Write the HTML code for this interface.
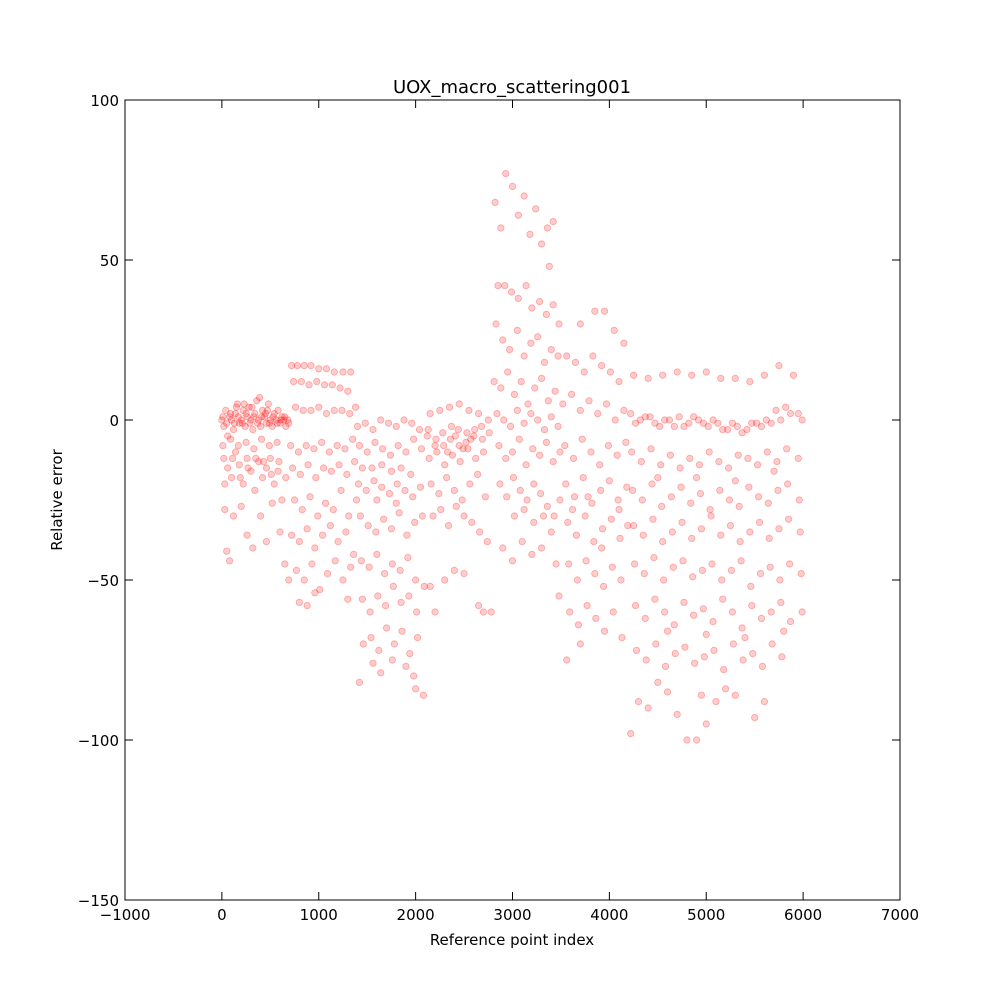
<!DOCTYPE html>
<html><head><meta charset="utf-8">
<style>
html,body{margin:0;padding:0;background:#fff;}
svg text{font-family:"DejaVu Sans","Liberation Sans",sans-serif;fill:#000;}
</style></head>
<body>
<svg id="chart" width="1000" height="1000" viewBox="0 0 1000 1000" xmlns="http://www.w3.org/2000/svg">
<rect x="0" y="0" width="1000" height="1000" fill="#fff"/>
<g id="points"></g>
<g id="axes"></g>
<text x="512" y="93" font-size="18" text-anchor="middle">UOX_macro_scattering001</text>
<text x="512" y="945" font-size="15" text-anchor="middle">Reference point index</text>
<text x="62" y="500" font-size="15" text-anchor="middle" transform="rotate(-90 62 500)">Relative error</text>
</svg>
<script>
const xTicks = [-1000,0,1000,2000,3000,4000,5000,6000,7000];
const yTicks = [-150,-100,-50,0,50,100];
const pointData = "0,0;20,-2;40,3;60,-5;80,1;100,0;120,-3;140,2;160,5;180,-1;200,0;220,3;240,-2;260,1;280,4;300,0;320,-3;340,2;360,6;380,0;400,-2;420,3;440,1;460,-1;480,5;500,0;520,-2;540,2;560,0;580,3;600,-1;620,1;640,0;660,-2;680,0;20,-12;60,-15;100,-18;140,-10;180,-14;220,-20;260,-12;300,-16;340,-22;380,-13;420,-18;460,-15;500,-12;540,-20;580,-16;620,-25;660,-18;30,-28;50,-41;80,-44;120,-30;200,-27;260,-36;320,-40;400,-30;460,-38;520,-26;600,-35;650,-45;690,-50;10,-8;90,-6;170,-8;250,-7;330,-9;410,-6;490,-8;570,-7;"
+"720,17;780,17;850,17;920,17;1000,16;1080,16;1160,15;1250,15;1330,15;740,12;820,12;900,11;980,12;1060,11;1140,11;1220,10;1300,9;760,4;840,3;920,3;1000,4;1080,2;1160,3;1240,3;1320,2;1380,4;710,-8;790,-10;870,-8;950,-9;1030,-7;1110,-10;1190,-8;1270,-9;1350,-6;730,-15;810,-17;890,-14;970,-18;1050,-15;1130,-16;1210,-14;1290,-17;1370,-13;750,-25;830,-28;910,-24;990,-30;1070,-26;1150,-28;1230,-22;1310,-30;1390,-25;720,-36;800,-38;880,-34;960,-40;1040,-36;1120,-33;1200,-38;1280,-35;1360,-42;770,-47;850,-50;930,-45;1010,-53;1090,-48;1170,-44;1250,-50;1330,-46;800,-57;880,-58;960,-54;1300,-56;"
+"1400,-2;1480,-1;1560,-3;1640,0;1720,-1;1800,-2;1880,0;1960,-1;2040,-3;1420,-8;1500,-10;1580,-7;1660,-9;1740,-11;1820,-8;1900,-10;1980,-6;2060,-9;1410,-20;1490,-22;1570,-19;1650,-21;1730,-23;1810,-20;1890,-22;1970,-24;2050,-21;1430,-30;1510,-33;1590,-35;1670,-31;1750,-34;1830,-29;1910,-36;1990,-32;2070,-30;1440,-44;1520,-46;1600,-42;1680,-48;1760,-45;1840,-47;1920,-43;2000,-50;1450,-56;1530,-60;1610,-55;1690,-58;1770,-52;1850,-57;1930,-55;2010,-60;2090,-52;1460,-70;1540,-68;1620,-72;1700,-65;1780,-70;1860,-66;1940,-73;2020,-68;1420,-82;1560,-76;1640,-79;1760,-75;1900,-77;2000,-84;2080,-86;1980,-80;"
+"2150,2;2250,3;2350,4;2450,5;2550,3;2650,2;2750,0;2120,-5;2200,-8;2280,-4;2360,-6;2440,-3;2520,-7;2600,-5;2680,-2;2760,-4;2140,-12;2220,-10;2300,-14;2380,-11;2460,-13;2540,-9;2620,-12;2700,-10;2160,-20;2240,-23;2320,-18;2400,-22;2480,-25;2560,-20;2640,-17;2720,-24;2180,-30;2260,-28;2340,-33;2420,-27;2500,-30;2580,-32;2660,-35;2740,-38;2150,-52;2300,-50;2400,-47;2500,-48;2650,-58;2700,-60;2780,-60;2200,-60;"
+"2820,68;2880,60;2930,77;3000,73;3060,64;3120,70;3180,58;3240,66;3300,55;3360,60;3420,62;3380,48;2850,42;2920,42;2990,40;3060,38;3140,42;3200,35;3280,37;3350,33;3420,36;3480,30;2830,30;2900,25;2970,22;3050,28;3120,20;3190,24;3260,26;3330,18;3400,22;3470,20;2810,12;2880,10;2950,15;3020,8;3090,12;3160,5;3230,10;3300,13;3370,6;3440,9;2840,2;2910,0;2980,-2;3050,3;3120,-1;3190,2;3260,0;3330,-3;3400,1;3470,-2;2860,-8;2930,-12;3000,-10;3070,-6;3140,-14;3210,-9;3280,-11;3350,-7;3420,-13;3490,-10;2870,-20;2940,-24;3010,-18;3080,-22;3150,-25;3220,-20;3290,-23;3360,-27;3430,-30;3490,-25;2900,-40;3000,-44;3100,-38;3200,-42;3300,-40;3400,-35;3450,-45;3480,-55;"
+"3560,20;3650,18;3740,15;3830,20;3920,17;4010,15;4100,12;3700,30;3850,34;3950,34;4050,28;4150,24;3520,5;3610,8;3700,3;3790,6;3880,2;3970,5;4060,0;4150,3;3540,-8;3630,-12;3720,-6;3810,-10;3900,-14;3990,-8;4080,-11;4170,-7;3550,-20;3640,-24;3730,-18;3820,-26;3910,-22;4000,-19;4090,-25;4180,-21;3570,-32;3660,-36;3750,-30;3840,-38;3930,-34;4020,-31;4110,-37;4190,-33;3580,-45;3670,-50;3760,-44;3850,-48;3940,-52;4030,-46;4120,-50;3590,-60;3680,-64;3770,-58;3860,-62;3950,-66;4040,-60;4130,-68;3560,-75;3700,-70;"
+"4250,14;4400,13;4550,14;4700,15;4850,14;5000,15;5150,13;5300,13;5450,12;5600,14;5750,17;5900,14;4220,2;4320,0;4420,1;4520,-2;4620,0;4720,1;4820,-1;4920,0;5020,-2;5120,-1;5220,-3;5320,-2;5420,-3;5520,-1;5620,0;5720,3;5820,4;5950,2;4230,-10;4330,-13;4430,-9;4530,-14;4630,-11;4730,-15;4830,-12;4930,-14;5030,-10;5130,-13;5230,-15;5330,-11;5430,-12;5530,-14;5630,-10;5730,-13;5830,-9;5950,-12;4240,-22;4340,-25;4440,-20;4540,-27;4640,-24;4740,-21;4840,-26;4940,-23;5040,-28;5140,-22;5240,-25;5340,-27;5440,-21;5540,-24;5640,-26;5740,-22;5840,-20;5960,-25;4250,-33;4350,-36;4450,-31;4550,-38;4650,-35;4750,-32;4850,-37;4950,-34;5050,-30;5150,-36;5250,-33;5350,-38;5450,-35;5550,-32;5650,-37;5750,-34;5850,-31;5970,-35;4260,-45;4360,-48;4460,-43;4560,-50;4660,-46;4760,-44;4860,-49;4960,-47;5060,-45;5160,-50;5260,-47;5360,-44;5460,-52;5560,-48;5660,-46;5760,-50;5860,-45;5980,-48;4270,-58;4370,-62;4470,-56;4570,-60;4670,-64;4770,-57;4870,-61;4970,-59;5070,-63;5170,-56;5270,-60;5370,-65;5470,-58;5570,-62;5670,-60;5770,-57;5870,-63;5990,-60;4280,-72;4380,-75;4480,-70;4580,-77;4680,-73;4780,-71;4880,-76;4980,-74;5080,-72;5180,-78;5280,-70;5380,-75;5480,-73;5580,-77;5680,-70;5780,-74;4220,-98;4300,-88;4400,-90;4600,-85;4700,-92;4800,-100;4900,-100;5000,-95;5100,-88;5200,-84;5300,-86;5500,-93;5600,-88;4500,-82;4950,-86;"
+"10,1;50,-1;90,2;130,-1;170,1;210,-1;250,2;290,-1;330,1;370,-1;410,1;450,2;490,-1;530,1;570,-1;610,0;650,1;690,-1;230,5;310,4;390,7;470,3;150,4;30,-20;110,-12;190,-18;270,-15;350,-12;430,-13;510,-17;590,-13;"
+"2130,-3;2210,-6;2290,-8;2370,-2;2450,-8;2530,-4;2610,-3;2690,-6;2330,-10;2410,-5;2490,-9;2570,-6;1450,-15;1550,-15;1650,-14;1750,-16;1850,-15;1950,-17;1600,-25;1800,-26;"
+"4270,-1;4370,1;4470,-1;4570,0;4670,-2;4770,-2;4870,1;4970,-1;5070,0;5170,-3;5270,-1;5370,-4;5470,-1;5570,-2;5670,-1;5770,0;5870,2;5990,0;3020,-30;3120,-28;3220,-32;3320,-30;3620,-28;3780,-24;3920,-40;4100,-28;4500,-18;4900,-18;5300,-19;5700,-16;4600,-66;5000,-67;5400,-68;5800,-66";
const pointX = [];
const pointY = [];
pointData.split(";").forEach(p => { const a = p.split(","); pointX.push(+a[0]); pointY.push(+a[1]); });

const L = 125, R = 900, T = 100, B = 900;
const xMin = -1000, xMax = 7000, yMin = -150, yMax = 100;
function sx(v){ return L + (v - xMin) / (xMax - xMin) * (R - L); }
function sy(v){ return B - (v - yMin) / (yMax - yMin) * (B - T); }
const NS = "http://www.w3.org/2000/svg";
const pg = document.getElementById("points");
for (let i = 0; i < pointX.length; i++) {
  const c = document.createElementNS(NS, "circle");
  c.setAttribute("cx", sx(pointX[i]));
  c.setAttribute("cy", sy(pointY[i]));
  c.setAttribute("r", 3.2);
  c.setAttribute("fill", "rgba(255,0,0,0.2)");
  c.setAttribute("stroke", "rgba(255,0,0,0.3)");
  c.setAttribute("stroke-width", "0.8");
  
  
  pg.appendChild(c);
}
const ag = document.getElementById("axes");
const frame = document.createElementNS(NS, "rect");
frame.setAttribute("x", L); frame.setAttribute("y", T);
frame.setAttribute("width", R - L); frame.setAttribute("height", B - T);
frame.setAttribute("fill", "none"); frame.setAttribute("stroke", "#000"); frame.setAttribute("stroke-width", "1");


ag.appendChild(frame);
function line(x1,y1,x2,y2,name){
  const l = document.createElementNS(NS, "line");
  l.setAttribute("x1",x1); l.setAttribute("y1",y1); l.setAttribute("x2",x2); l.setAttribute("y2",y2);
  l.setAttribute("stroke","#000"); l.setAttribute("stroke-width","1");
  
  
  ag.appendChild(l);
}
function label(x,y,txt,anchor,name){
  const t = document.createElementNS(NS, "text");
  t.setAttribute("x",x); t.setAttribute("y",y); t.setAttribute("font-size","15");
  t.setAttribute("text-anchor",anchor);
  t.textContent = txt;
  
  
  ag.appendChild(t);
}
function fmt(v){ return v < 0 ? "\u2212" + Math.abs(v) : String(v); }
xTicks.forEach(v => {
  const x = sx(v);
  line(x, B, x, B - 8, "x-tick");
  line(x, T, x, T + 8, "x-tick-top");
  label(x, B + 20, fmt(v), "middle", "x-tick-label");
});
yTicks.forEach(v => {
  const y = sy(v);
  line(L, y, L + 8, y, "y-tick");
  line(R, y, R - 8, y, "y-tick-right");
  label(L - 6, y + 6, fmt(v), "end", "y-tick-label");
});
</script>
</body></html>
